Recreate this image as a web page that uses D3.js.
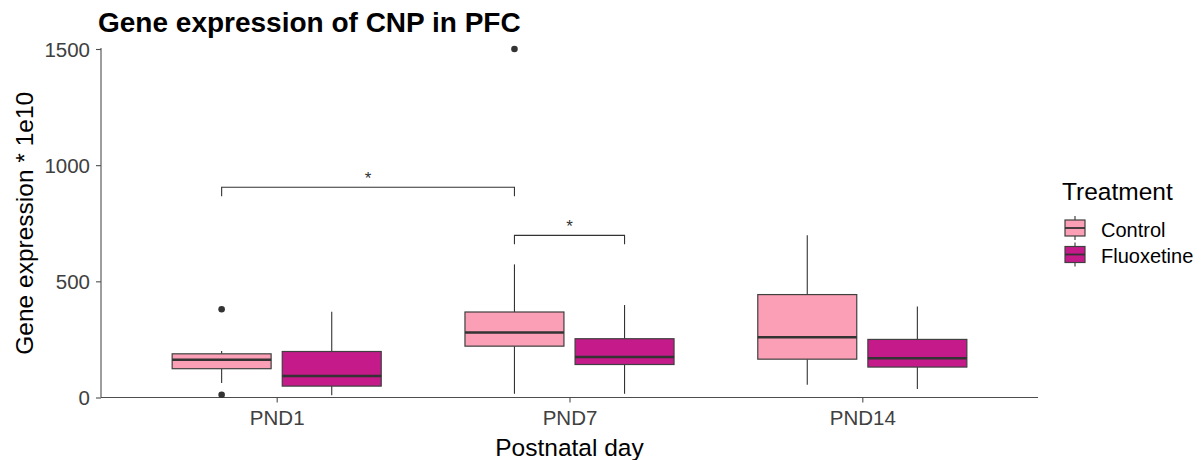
<!DOCTYPE html>
<html><head><meta charset="utf-8">
<script src="https://cdn.jsdelivr.net/npm/d3@7"></script>
<style>body{margin:0;background:#fff}svg{display:block}text{font-family:"Liberation Sans",Arial,sans-serif}</style>
</head><body><svg id="c" width="1203" height="460"></svg>
<script>
const categories = ["PND1","PND7","PND14"];
const treatments = ["Control","Fluoxetine"];
const colors = ["#FA9FB5","#C51B8A"];
const yTicks = [0,500,1000,1500];
// [whiskerLow, q1, median, q3, whiskerHigh]
const controlStats = [[62,124,162,188,200],[16,221,280,368,573],[55,165,259,443,698]];
const fluoxetineStats = [[10,49,93,198,369],[16,142,174,253,398],[37,131,169,250,392]];
const controlOutliers = [[380,12],[1500],[]];
const fluoxetineOutliers = [[],[],[]];
// significance brackets: [catA, treatA, catB, treatB, y]
const brackets = [["PND1",0,"PND7",0,905],["PND7",0,"PND7",1,698]];

const svg = d3.select("#c");
const L=101, R=1038, T=49, B=397.5;
// emulate ggplot discrete expansion (0.6 unit each side)
const unit = (R-L)/(categories.length-1+1.2);
const xs = d3.scalePoint().domain(categories).range([L+0.6*unit, R-0.6*unit]);
const y = d3.scaleLinear().domain([0,1500]).range([B,T]);
const boxW = unit*0.338, off = unit*0.188;

// axes
const ya = svg.append("g").attr("transform",`translate(${L},0)`)
  .call(d3.axisLeft(y).tickValues(yTicks).tickFormat(d3.format("d")).tickSize(5).tickPadding(6));
ya.select(".domain").attr("d",`M0,${T-1}V${B}`);
const xa = svg.append("g").attr("transform",`translate(0,${B})`)
  .call(d3.axisBottom(xs).tickSize(5).tickPadding(8));
xa.select(".domain").attr("d",`M${L},0H${R}`);
[ya,xa].forEach(g=>{
  g.selectAll(".domain").attr("stroke","#4d4d4d").attr("stroke-width",1.1);
  g.selectAll(".tick line").attr("stroke","#4d4d4d").attr("stroke-width",1.1);
  g.selectAll(".tick text").attr("fill","#404040").attr("font-size",20.5);
});
ya.selectAll(".tick text").attr("dy","0.36em");

const all = [controlStats,fluoxetineStats];
const outs = [controlOutliers,fluoxetineOutliers];
categories.forEach((c,ci)=>{
  [0,1].forEach(t=>{
    const s = all[t][ci];
    const cx = xs(c) + (t===0?-off:off);
    const g = svg.append("g");
    g.append("line").attr("x1",cx).attr("x2",cx).attr("y1",y(s[0])).attr("y2",y(s[1])).attr("stroke","#333").attr("stroke-width",1.1);
    g.append("line").attr("x1",cx).attr("x2",cx).attr("y1",y(s[3])).attr("y2",y(s[4])).attr("stroke","#333").attr("stroke-width",1.1);
    g.append("rect").attr("x",cx-boxW/2).attr("width",boxW).attr("y",y(s[3])).attr("height",y(s[1])-y(s[3]))
      .attr("fill",colors[t]).attr("stroke","#404040").attr("stroke-width",1.2);
    g.append("line").attr("x1",cx-boxW/2).attr("x2",cx+boxW/2).attr("y1",y(s[2])).attr("y2",y(s[2])).attr("stroke","#333").attr("stroke-width",2.5);
    outs[t][ci].forEach(v=>g.append("circle").attr("cx",cx).attr("cy",y(v)).attr("r",3.3).attr("fill","#333"));
  });
});

brackets.forEach(b=>{
  const x1 = xs(b[0]) + (b[1]===0?-off:off);
  const x2 = xs(b[2]) + (b[3]===0?-off:off);
  const yy = y(b[4]);
  svg.append("path").attr("d",`M${x1},${yy+9}V${yy}H${x2}V${yy+9}`).attr("fill","none").attr("stroke","#333").attr("stroke-width",1.1);
  svg.append("text").attr("x",(x1+x2)/2).attr("y",yy-3).attr("text-anchor","middle").attr("font-size",17).attr("fill","#333").text("*");
});

svg.append("text").attr("x",98).attr("y",32).attr("font-size",28).attr("font-weight","bold").attr("fill","#000").text("Gene expression of CNP in PFC");
svg.append("text").attr("transform",`translate(33,${(T+B)/2}) rotate(-90)`).attr("text-anchor","middle").attr("font-size",24.5).attr("fill","#000").text("Gene expression * 1e10");
svg.append("text").attr("x",(L+R)/2).attr("y",456).attr("text-anchor","middle").attr("font-size",24.5).attr("fill","#000").text("Postnatal day");

// legend
svg.append("text").attr("x",1062).attr("y",200).attr("font-size",24.5).attr("fill","#000").text("Treatment");
treatments.forEach((t,i)=>{
  const ky = 228 + i*26.5;
  const g = svg.append("g");
  g.append("line").attr("x1",1075).attr("x2",1075).attr("y1",ky-12).attr("y2",ky+12).attr("stroke","#333").attr("stroke-width",1.1);
  g.append("rect").attr("x",1065).attr("y",ky-8).attr("width",20).attr("height",16).attr("fill",colors[i]).attr("stroke","#404040").attr("stroke-width",1.2);
  g.append("line").attr("x1",1065).attr("x2",1085).attr("y1",ky).attr("y2",ky).attr("stroke","#333").attr("stroke-width",1.8);
  g.append("text").attr("x",1101).attr("y",ky+8.5).attr("font-size",20).attr("fill","#000").text(t);
});
</script></body></html>
